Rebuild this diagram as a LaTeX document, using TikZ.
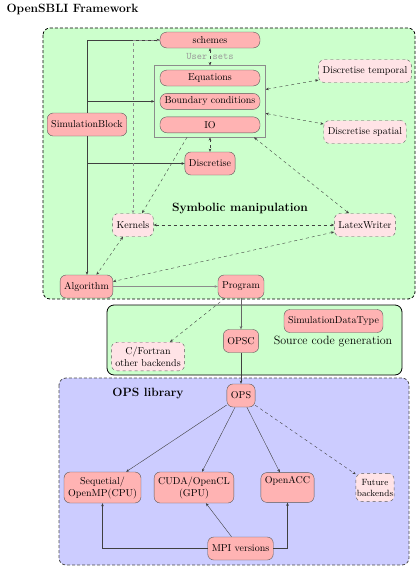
\documentclass[tikz,border=0pt]{standalone}
\usetikzlibrary{arrows.meta, positioning, fit, calc}
\definecolor{symGreen}{HTML}{CCFFCC}
\definecolor{opsBlue}{HTML}{CCCCFF}
\definecolor{blockRed}{HTML}{FFB3B3}
\definecolor{optRed}{HTML}{FFE3E6}

\begin{document}
\begin{tikzpicture}[
  x=1pt, y=-1pt,
  >={Stealth[length=3.2pt, width=2.6pt]},
  blk/.style={rectangle, rounded corners=6pt, draw=black!65, fill=blockRed,
              inner xsep=4pt, inner ysep=3pt, minimum height=23pt, align=center},
  optblk/.style={blk, dashed, fill=optRed},
  twoline/.style={inner ysep=4.5pt},
  inblk/.style={blk, minimum width=100pt, minimum height=16pt, inner ysep=1pt,
                rounded corners=7pt},
  region/.style={rounded corners=7pt, line width=0.8pt},
  regdash/.style={region, dash pattern=on 3pt off 2pt},
  heading/.style={font=\large\bfseries},
  link/.style={->, draw=black!75},
  optlink/.style={<->, dashed, draw=black!75},
  usersets/.style={font=\ttfamily, text=black!40, inner sep=1pt},
]
\useasboundingbox (0,0) rectangle (416,566);

% regions
\draw[regdash, fill=symGreen] (43,28) rectangle (415,299);
\draw[region, draw=black, fill=symGreen] (107,305) rectangle (402,375);
\draw[regdash, draw=black!70, fill=opsBlue] (59,378) rectangle (409,565);

\node[heading, anchor=west] (title) at (3,9) {OpenSBLI Framework};
\node[heading] (symlabel) at (240,209) {Symbolic manipulation};
\node[font=\large] (srclabel) at (333,341) {Source code generation};
\node[heading] (opslabel) at (148,394) {OPS library};

% symbolic part
\node[inblk] (schemes) at (210,40) {schemes};
\node[inblk] (eq) at (210,78) {Equations};
\node[inblk, below=7pt of eq] (bc) {Boundary conditions};
\node[inblk, below=7pt of bc] (io) {IO};
\node[draw=black!45, line width=0.8pt, inner xsep=5pt, inner ysep=4pt,
      fit=(eq)(bc)(io)] (grp) {};

\node[optblk] (dt) at (365,71) {Discretise temporal};
\node[optblk] (ds) at (365,132) {Discretise spatial};
\node[blk] (sim) at (87,124.5) {SimulationBlock};
\node[blk] (disc) at (210,163.5) {Discretise};
\node[optblk] (kern) at (133,225) {Kernels};
\node[optblk] (lw) at (365,225) {LatexWriter};
\node[blk] (alg) at (86.5,286.5) {Algorithm};
\node[blk] (prog) at (241,286.5) {Program};

% code generation
\node[blk] (sdt) at (333.5,321) {SimulationDataType};
\node[blk] (opsc) at (241,341) {OPSC};
\node[optblk, twoline] (cf) at (148,356.5) {C/Fortran\\other backends};

% OPS
\node[blk] (ops) at (241,395.5) {OPS};
\node[blk, twoline] (seq) at (102.5,487.5) {Sequetial/\\OpenMP(CPU)};
\node[blk, twoline] (cuda) at (194,487.5) {CUDA/OpenCL\\(GPU)};
\node[blk, inner ysep=3.5pt] (acc) at (287.5,487.5) {OpenACC\\\strut};
\node[optblk, font=\small, inner xsep=1pt, inner ysep=5.5pt] (fut) at (375,487.5)
  {Future\\backends};
\node[blk] (mpi) at (240.5,548.5) {MPI versions};

% connectors
\draw[link] (sim.north) |- (schemes.west);
\draw[link] (sim.north) |- (grp.west);
\draw[link] (sim.south) |- (disc.west);
\draw[link] (sim.south) -- (sim.south |- alg.north);
\draw[->, dashed, draw=black!45] (schemes.west) -| (kern.north);

\draw[optlink] (schemes.south) -- node[usersets] {User sets} (grp.north);
\draw[optlink] ([yshift=12pt]grp.east) -- ([yshift=-9pt]dt.west);
\draw[optlink] ([yshift=-12pt]grp.east) -- ([yshift=8pt]ds.west);
\draw[optlink] (grp.south) -- (disc.north);
\draw[->, dashed, draw=black!75] ([xshift=-23pt]grp.south) -- ([xshift=9pt]kern.north);
\draw[optlink] ([xshift=44pt]grp.south) -- ([xshift=-16pt]lw.north);
\draw[optlink] (kern) -- (lw);
\draw[optlink] ([xshift=-10pt]kern.south) -- ([xshift=10pt]alg.north);
\draw[optlink] ([yshift=-7pt]lw.west) -- ([yshift=5pt]alg.east);

\draw[->, draw=black!45, line width=1pt] (alg) -- (prog);
\draw[->, draw=black!60] (prog) -- (opsc);
\draw[->, dashed, draw=black!75] ([xshift=-16pt]prog.south) -- ([xshift=22pt]cf.north);
\draw[link] (opsc) -- (ops);

\foreach \target in {seq, cuda, acc}
  \draw[link] (ops) -- (\target);
\draw[->, dashed, draw=black!75] (ops) -- (fut);
\draw[link] (mpi.west) -| (seq.south);
\draw[link] (mpi) -- (cuda);
\draw[link] (mpi.east) -| (acc.south);

\end{tikzpicture}
\end{document}
